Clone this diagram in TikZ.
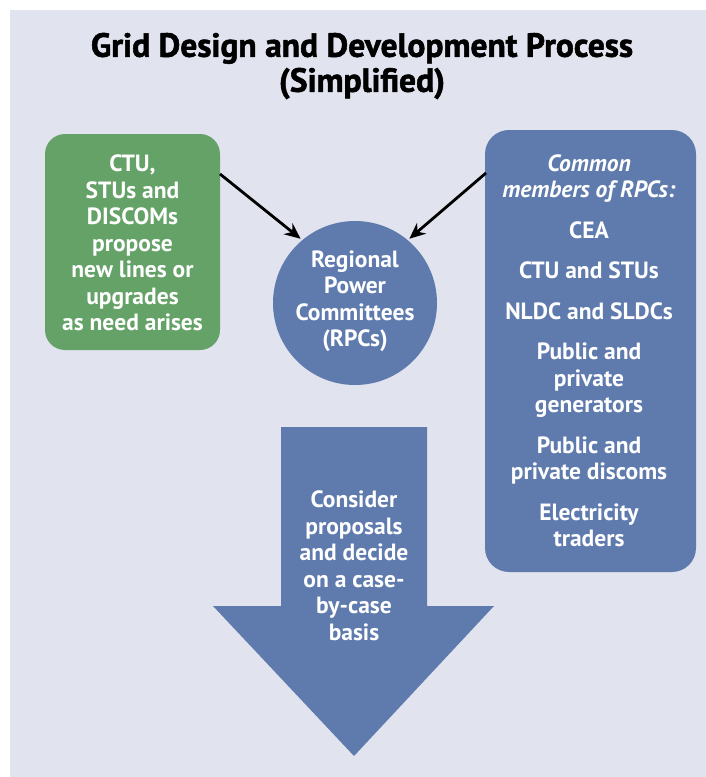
\documentclass[tikz,border=0pt]{standalone}
\usepackage{fontspec}
\setmainfont{PT Sans}
\newfontfamily\headingfont{PT Sans}[BoldFeatures={FakeBold=1.6}]
\usetikzlibrary{arrows.meta}
\definecolor{panel}{HTML}{E1E3EF}
\definecolor{leafgreen}{HTML}{65A267}
\definecolor{slateblue}{HTML}{5F7BAE}
\tikzset{
  boxtext/.style={text=white, font=\bfseries\fontsize{23.5}{26.5}\selectfont, align=center},
  feed/.style={draw=black, line width=2.8pt, -{Stealth[length=16pt,width=14pt]}},
}
\begin{document}
\begin{tikzpicture}[x=1pt,y=-1pt]
\useasboundingbox (0,0) rectangle (706,777);
% background panel
\fill[panel] (10,10) rectangle (706,777);
% title
\node (title) at (362,66) [font=\headingfont\bfseries\fontsize{33.5}{35}\selectfont, align=center]
  {Grid Design and Development Process\\(Simplified)};
% proposers
\fill[leafgreen, rounded corners=20pt] (45,134) rectangle (220,350);
\coordinate (gbox) at (220,174);
\node (prop) at (132.5,243) [boxtext]
  {CTU,\\STUs and\\DISCOMs\\propose\\new lines or\\upgrades\\as need arises};
% members box
\fill[slateblue, rounded corners=24pt] (485,130) rectangle (696,572);
\coordinate (bbox) at (486,173);
\node (members) at (589,351) [boxtext]
  {\textit{Common}\\\textit{members of RPCs:}\\[14pt]CEA\\[14pt]CTU and STUs\\[14pt]NLDC and SLDCs\\[14pt]Public and\\private\\generators\\[14pt]Public and\\private discoms\\[14pt]Electricity\\traders};
% committees
\node (rpc) [circle, fill=slateblue, minimum size=164pt, inner sep=0pt] at (355,303) {};
\node (rpctext) at (355,301) [boxtext] {Regional\\Power\\Committees\\(RPCs)};
\draw[feed, shorten >=2pt] (gbox) -- (rpc.130);
\draw[feed, shorten >=2pt] (bbox) -- (rpc.50);
% decision arrow
\fill[slateblue] (281,427) -- (427,427) -- (427,606) -- (494,606) -- (354,756)
  -- (213,606) -- (281,606) -- cycle;
\node (decide) at (354,566) [boxtext]
  {Consider\\proposals\\and decide\\on a case-\\by-case\\basis};
\end{tikzpicture}
\end{document}
